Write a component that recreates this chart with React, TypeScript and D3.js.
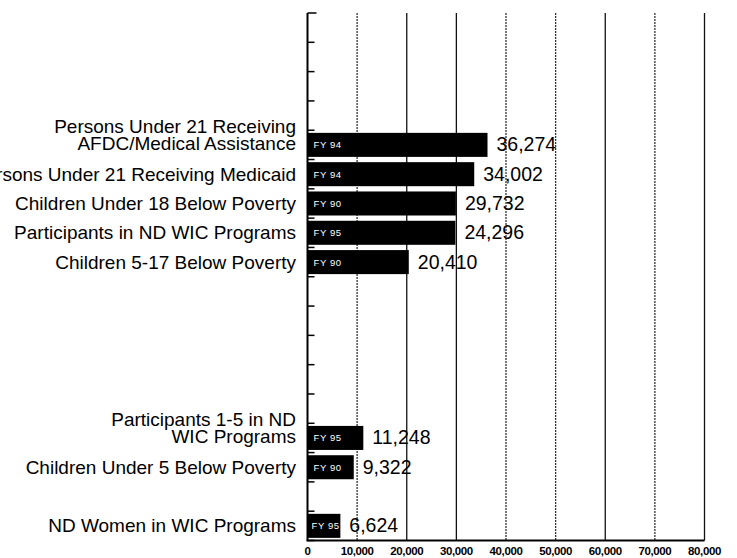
import React from "react";
import * as d3 from "d3";

// Rows from top to bottom; empty entries are blank rows on the chart
const categories: string[][] = [
  [], [], [], [],
  ["Persons Under 21 Receiving", "AFDC/Medical Assistance"],
  ["Persons Under 21 Receiving Medicaid"],
  ["Children Under 18 Below Poverty"],
  ["Participants in ND WIC Programs"],
  ["Children 5-17 Below Poverty"],
  [], [], [], [], [],
  ["Participants 1-5 in ND", "WIC Programs"],
  ["Children Under 5 Below Poverty"],
  [],
  ["ND Women in WIC Programs"],
];
// bar lengths as drawn in the picture
const values: (number | null)[] = [
  null, null, null, null,
  36274, 33600, 29900, 29800, 20410,
  null, null, null, null, null,
  11248, 9322, null, 6624,
];
// value labels printed next to the bars
const valueLabels: string[] = [
  "", "", "", "",
  "36,274", "34,002", "29,732", "24,296", "20,410",
  "", "", "", "", "",
  "11,248", "9,322", "", "6,624",
];
const fiscalYears: string[] = [
  "", "", "", "",
  "FY 94", "FY 94", "FY 90", "FY 95", "FY 90",
  "", "", "", "", "",
  "FY 95", "FY 90", "", "FY 95",
];
const tickValues = [0, 10000, 20000, 30000, 40000, 50000, 60000, 70000, 80000];
const dottedGrid = [10000, 40000, 50000, 70000];

const W = 737;
const H = 558;
const left = 307.5;
const right = 704.5;
const top = 13;
const bottom = 540.5;
const FONT = "'Liberation Sans', Arial, sans-serif";

export default function App() {
  const x = d3.scaleLinear().domain([0, 80000]).range([left, right]);
  const y = d3
    .scaleBand<number>()
    .domain(d3.range(categories.length))
    .range([top, bottom])
    .paddingInner(0.18)
    .paddingOuter(0.09);
  const step = y.step();
  const fmt = d3.format(",");

  return (
    <svg
      width={W}
      height={H}
      style={{ position: "absolute", left: 0, top: 0, overflow: "hidden", background: "#fff" }}
      fontFamily={FONT}
    >
      <rect x={0} y={0} width={W} height={H} fill="#fff" />
      {/* gridlines */}
      {tickValues.slice(1).map((t) => (
        <line
          key={"g" + t}
          x1={x(t)}
          x2={x(t)}
          y1={top}
          y2={bottom}
          stroke={dottedGrid.includes(t) ? "#333" : "#111"}
          strokeWidth={1.3}
          strokeDasharray={dottedGrid.includes(t) ? "2,1" : undefined}
        />
      ))}
      {/* bars */}
      {values.map((v, i) => {
        if (v == null) return null;
        const y0 = y(i)!;
        const bh = y.bandwidth();
        const cy = y0 + bh / 2;
        const bw = x(v) - x(0);
        const pad = bw < 45 ? 4 : 6;
        return (
          <g key={"b" + i}>
            <rect x={x(0)} y={y0} width={bw} height={bh} fill="#000" />
            <text
              x={x(0) + pad}
              y={cy + 3.5}
              fill="#fff"
              fontSize={9.5}
              letterSpacing={0.6}
            >
              {fiscalYears[i]}
            </text>
            <text x={x(v) + 9} y={cy + 6.5} fontSize={19.5} fill="#000">
              {valueLabels[i]}
            </text>
          </g>
        );
      })}
      {/* category labels */}
      {categories.map((lines, i) => {
        if (lines.length === 0) return null;
        const cy = y(i)! + y.bandwidth() / 2;
        const n = lines.length;
        return lines.map((ln, j) => (
          <text
            key={"l" + i + "-" + j}
            x={296}
            y={n === 1 ? cy + 6.5 : cy + 5 - (n - 1 - j) * 17}
            textAnchor="end"
            fontSize={19}
            fill="#000"
          >
            {ln}
          </text>
        ));
      })}
      {/* left axis */}
      <line x1={left} x2={left} y1={top} y2={bottom} stroke="#000" strokeWidth={2} />
      {d3.range(categories.length + 1).map((k) => (
        <line
          key={"t" + k}
          x1={left}
          x2={left + (k === 0 ? 9 : 7)}
          y1={top + k * step}
          y2={top + k * step}
          stroke="#000"
          strokeWidth={1.5}
        />
      ))}
      {/* bottom axis */}
      <line x1={left - 1} x2={right} y1={bottom} y2={bottom} stroke="#000" strokeWidth={2} />
      {tickValues.map((t) => (
        <text
          key={"x" + t}
          x={x(t)}
          y={555}
          textAnchor="middle"
          fontSize={11.5}
          fontWeight="bold"
          fill="#000"
          letterSpacing={-0.4}
        >
          {fmt(t)}
        </text>
      ))}
    </svg>
  );
}
